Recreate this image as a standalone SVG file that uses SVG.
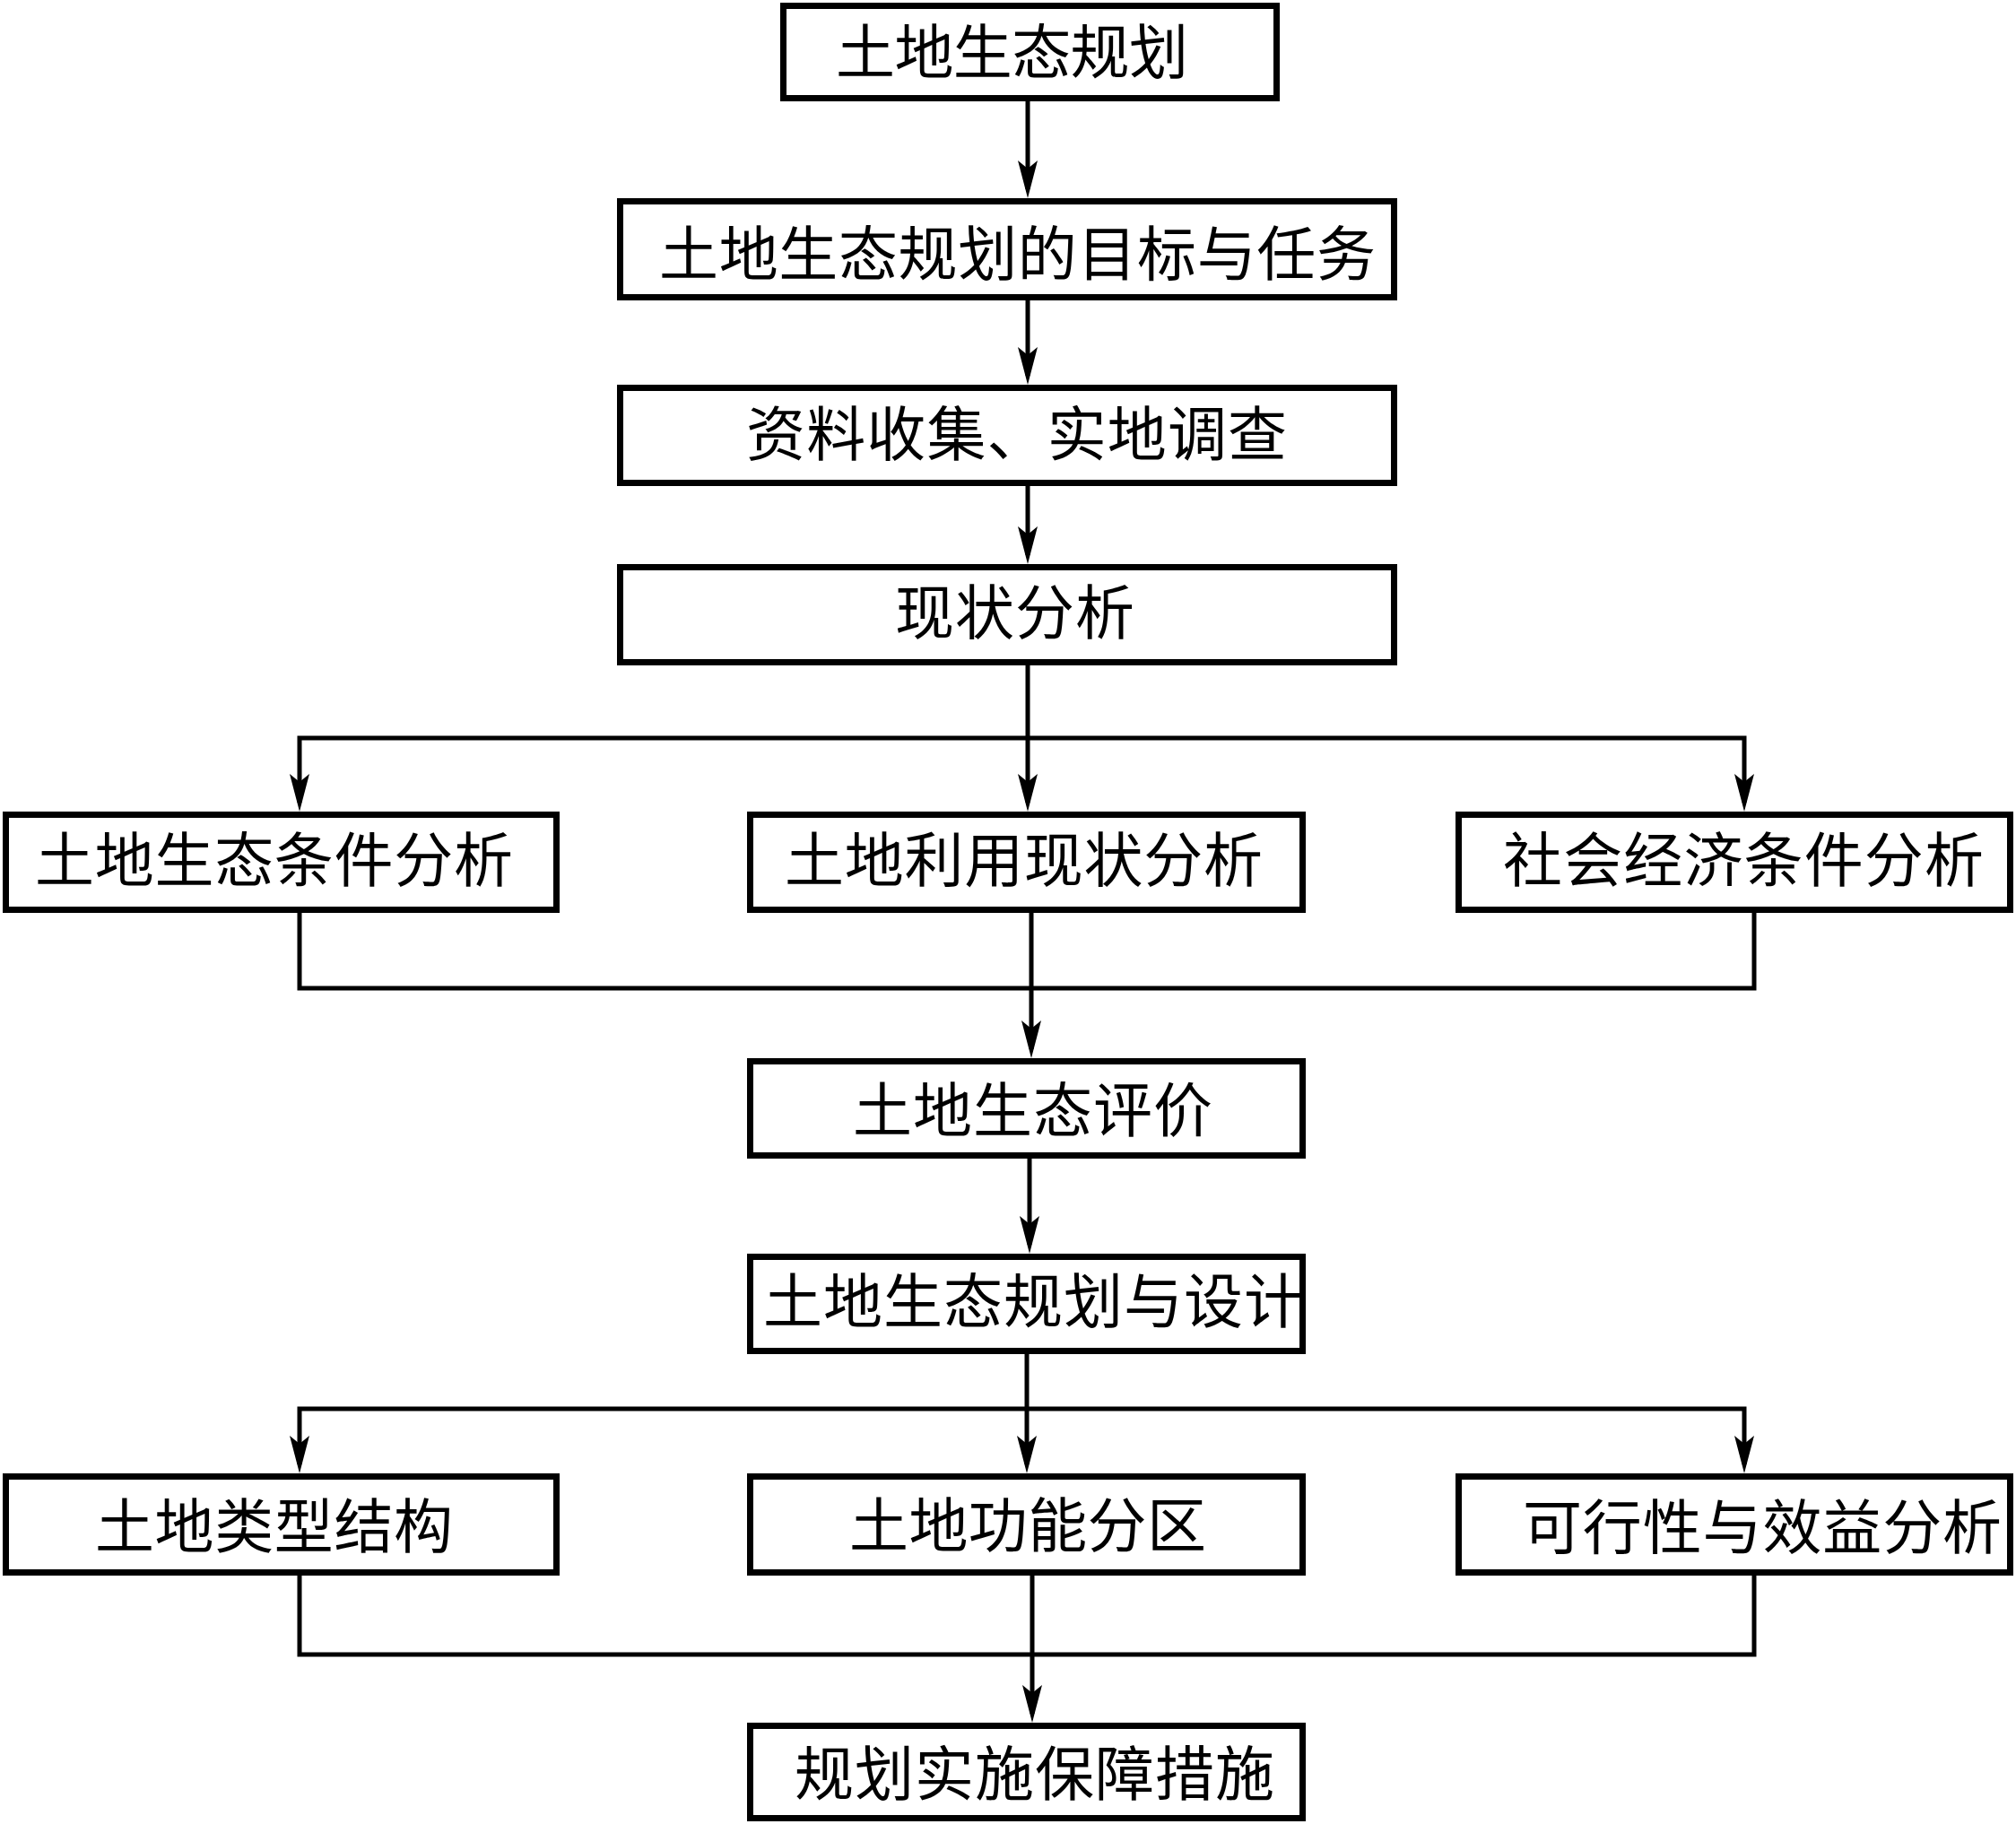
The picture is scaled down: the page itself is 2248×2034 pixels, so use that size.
<svg xmlns="http://www.w3.org/2000/svg" width="2248" height="2034" viewBox="0 0 2248 2034">
<style>
.box{fill:#fff;stroke:#000;stroke-width:7;stroke-linejoin:miter}
.lbl{font-family:"Noto Sans CJK SC","Noto Sans CJK TC",sans-serif;font-size:66px;fill:#000}
.con{fill:none;stroke:#000;stroke-width:5;stroke-linejoin:miter}
.arr{marker-end:url(#ah)}
</style>
<defs>
<marker id="ah" viewBox="0 0 42 22" refX="32" refY="11" markerWidth="42" markerHeight="22" markerUnits="userSpaceOnUse" orient="auto">
<path d="M0,0 L42,11 L0,22 L9,11 Z" fill="#000"/>
</marker>
</defs>
<rect width="2248" height="2034" fill="#fff"/>
<g id="connectors">
<path class="con arr" d="M1146,113 V211"/>
<path class="con arr" d="M1146,335 V419"/>
<path class="con arr" d="M1146,542 V619"/>
<path class="con arr" d="M1146,742 V895"/>
<path class="con arr" d="M1146,823 H334 V895"/>
<path class="con arr" d="M1146,823 H1945 V895"/>
<path class="con" d="M334,1018 V1102 H1150"/>
<path class="con" d="M1956,1018 V1102 H1150"/>
<path class="con arr" d="M1150,1018 V1170"/>
<path class="con arr" d="M1148,1292 V1388"/>
<path class="con arr" d="M1145,1510 V1633"/>
<path class="con arr" d="M1145,1571 H334 V1633"/>
<path class="con arr" d="M1145,1571 H1945 V1633"/>
<path class="con" d="M334,1757 V1845 H1151"/>
<path class="con" d="M1956,1757 V1845 H1151"/>
<path class="con arr" d="M1151,1757 V1911"/>
</g>
<g id="n1"><rect class="box" x="873.5" y="6.5" width="550" height="103"/><text class="lbl" x="932" y="82" textLength="393" lengthAdjust="spacing">土地生态规划</text></g>
<g id="n2"><rect class="box" x="691.5" y="224.5" width="863" height="107"/><text class="lbl" x="735" y="307" textLength="799" lengthAdjust="spacing">土地生态规划的目标与任务</text></g>
<g id="n3"><rect class="box" x="691.5" y="432.5" width="863" height="106"/><text class="lbl" x="832" y="508" textLength="603" lengthAdjust="spacing">资料收集、实地调查</text></g>
<g id="n4"><rect class="box" x="691.5" y="632.5" width="863" height="106"/><text class="lbl" x="998" y="707" textLength="267" lengthAdjust="spacing">现状分析</text></g>
<g id="n5"><rect class="box" x="6.5" y="908.5" width="614" height="106"/><text class="lbl" x="39" y="983" textLength="533" lengthAdjust="spacing">土地生态条件分析</text></g>
<g id="n6"><rect class="box" x="836.5" y="908.5" width="616" height="106"/><text class="lbl" x="875" y="983" textLength="533" lengthAdjust="spacing">土地利用现状分析</text></g>
<g id="n7"><rect class="box" x="1626.5" y="908.5" width="615" height="106"/><text class="lbl" x="1676" y="983" textLength="536" lengthAdjust="spacing">社会经济条件分析</text></g>
<g id="n8"><rect class="box" x="836.5" y="1183.5" width="616" height="105"/><text class="lbl" x="951" y="1262" textLength="401" lengthAdjust="spacing">土地生态评价</text></g>
<g id="n9"><rect class="box" x="836.5" y="1401.5" width="616" height="105"/><text class="lbl" x="851" y="1475" textLength="602" lengthAdjust="spacing">土地生态规划与设计</text></g>
<g id="n10"><rect class="box" x="6.5" y="1646.5" width="614" height="107"/><text class="lbl" x="106" y="1726" textLength="399" lengthAdjust="spacing">土地类型结构</text></g>
<g id="n11"><rect class="box" x="836.5" y="1646.5" width="616" height="107"/><text class="lbl" x="947" y="1725" textLength="398" lengthAdjust="spacing">土地功能分区</text></g>
<g id="n12"><rect class="box" x="1626.5" y="1646.5" width="615" height="107"/><text class="lbl" x="1698" y="1727" textLength="534" lengthAdjust="spacing">可行性与效益分析</text></g>
<g id="n13"><rect class="box" x="836.5" y="1924.5" width="616" height="103"/><text class="lbl" x="886" y="2002" textLength="535" lengthAdjust="spacing">规划实施保障措施</text></g>
</svg>
